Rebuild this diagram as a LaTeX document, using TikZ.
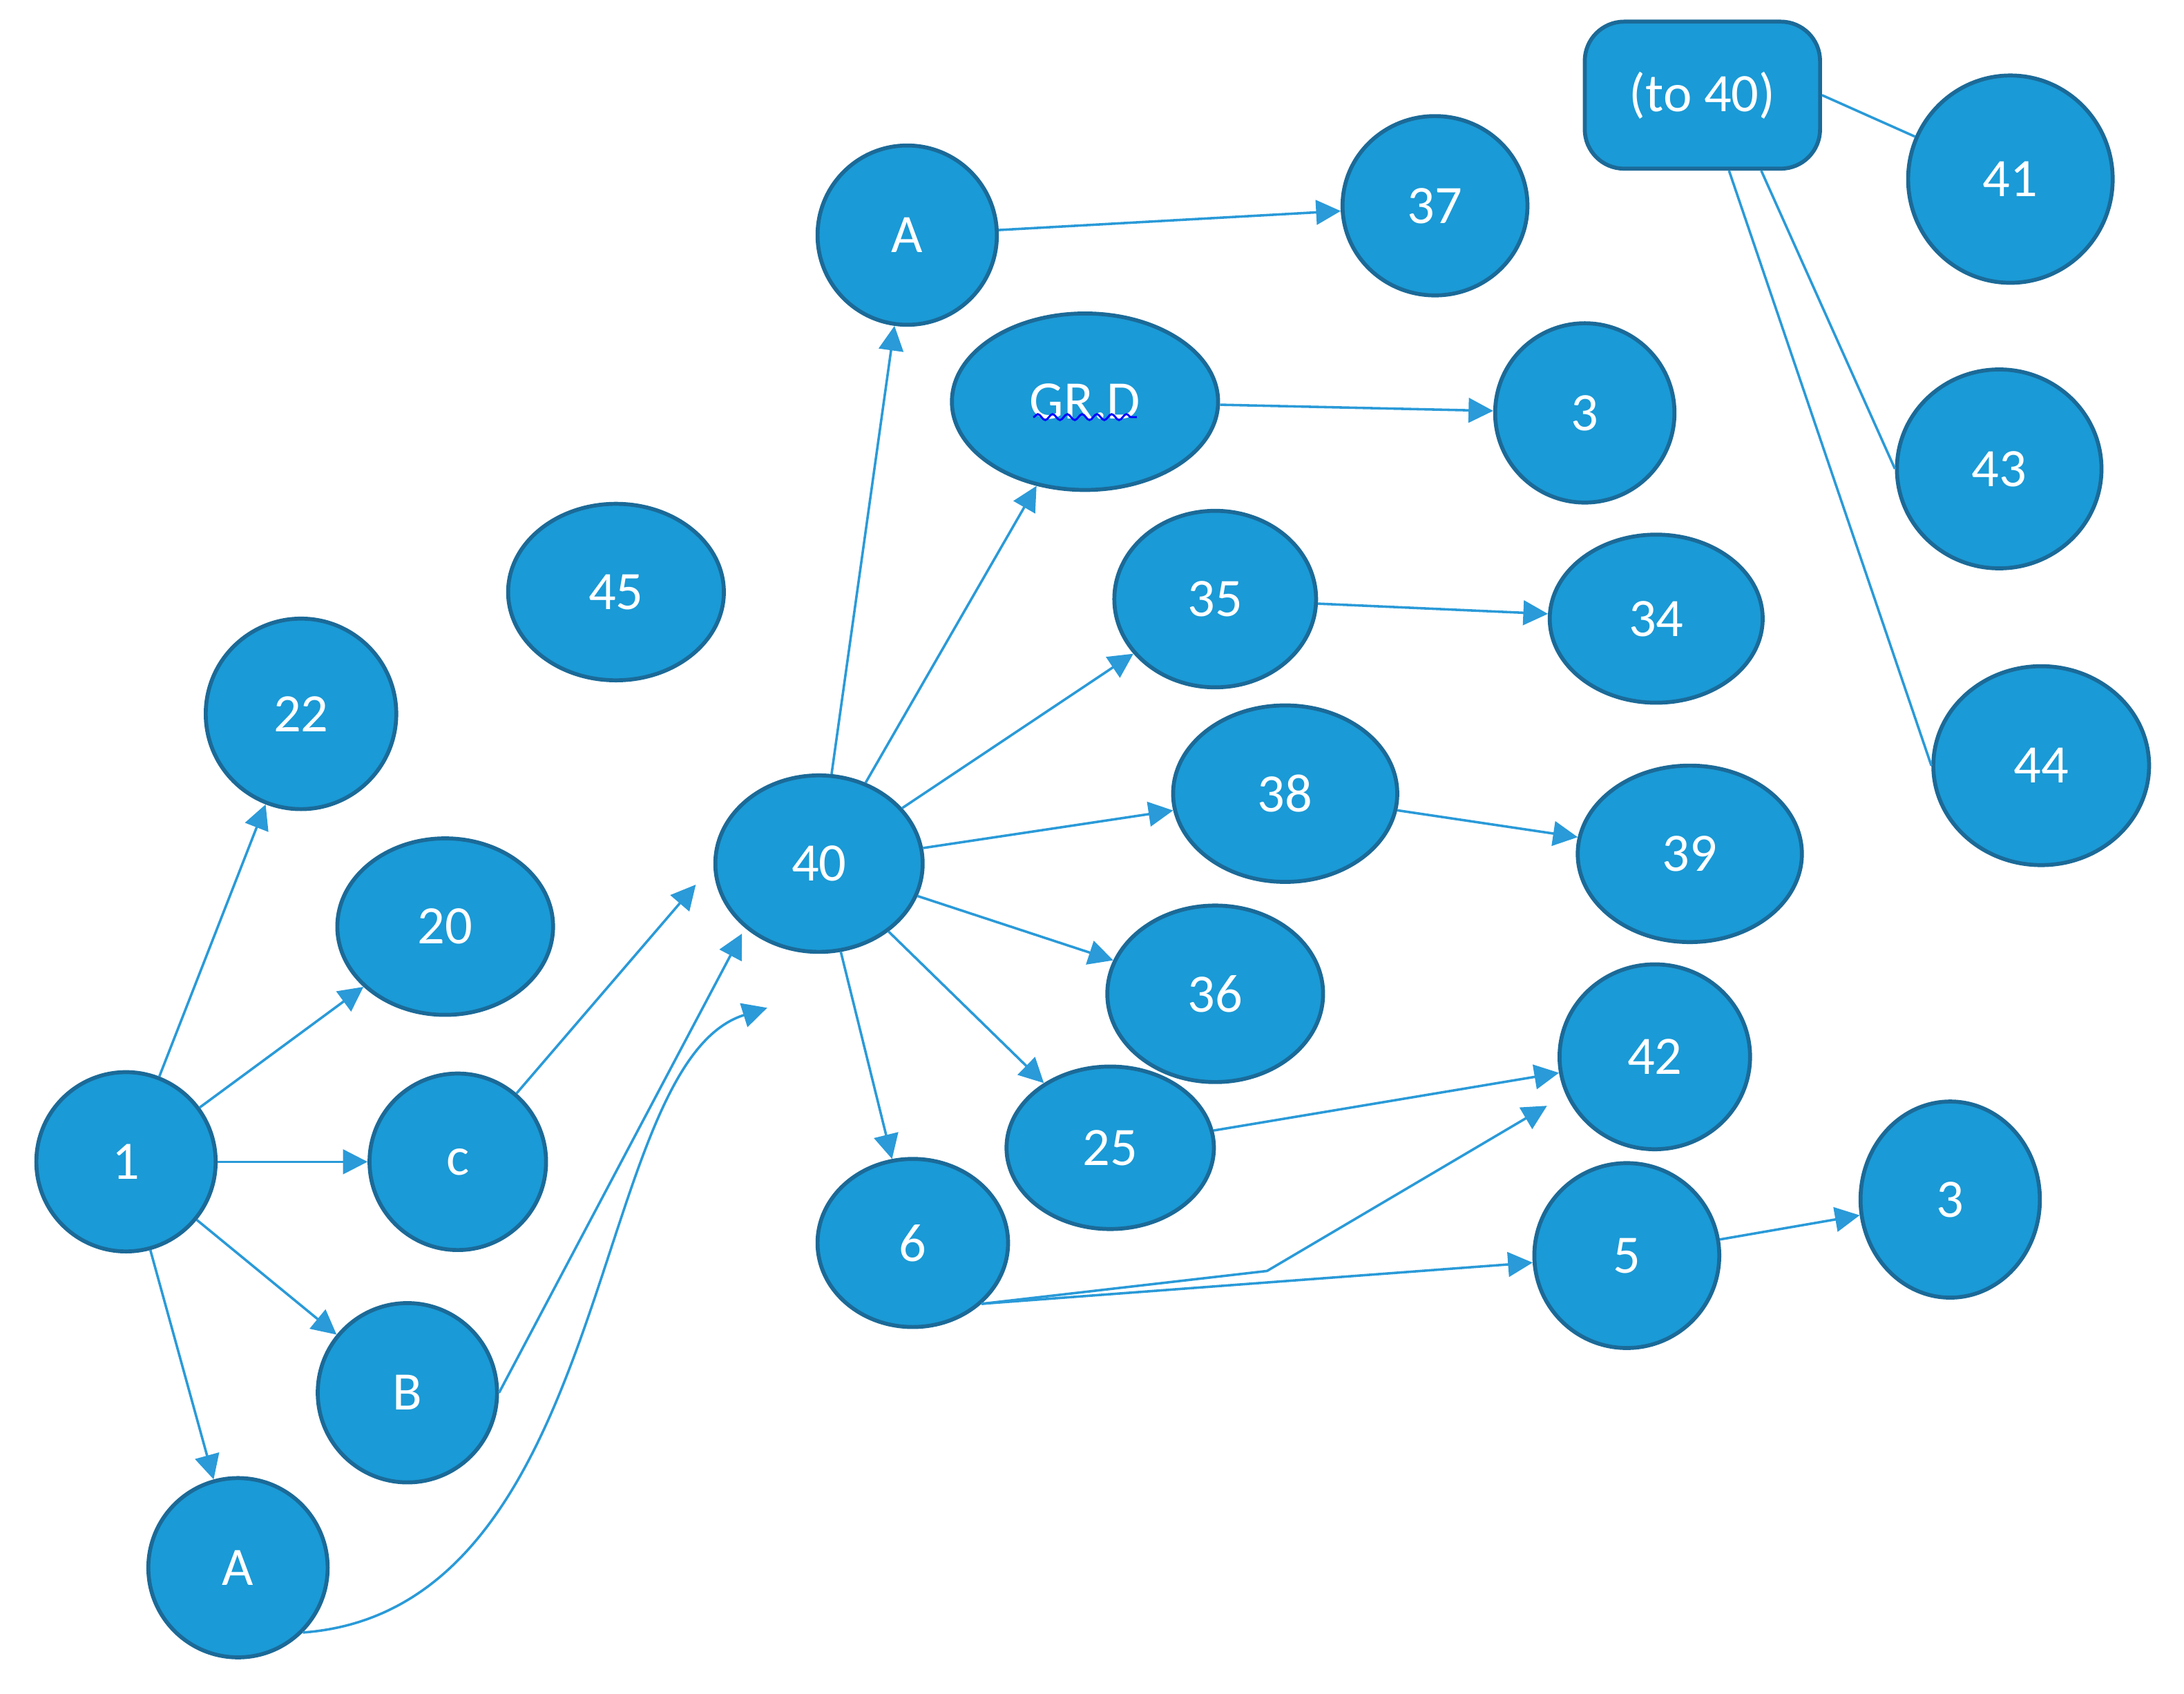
\documentclass[tikz,border=0pt]{standalone}
\usepackage{fontspec}
\setmainfont{Carlito}
\usetikzlibrary{shapes.geometric,arrows.meta,decorations.pathmorphing}
\definecolor{nfill}{HTML}{1A9AD6}
\definecolor{nline}{HTML}{1B6A98}
\definecolor{eline}{HTML}{2A9AD8}
\begin{document}
\begin{tikzpicture}[x=0.01cm,y=-0.01cm,
  n/.style={ellipse,fill=nfill,draw=nline,line width=0.8pt,text=white,font=\fontsize{11}{13}\selectfont,inner sep=0pt},
  e/.style={draw=eline,line width=0.5pt,-{Triangle[length=5pt,width=5pt]}},
  l/.style={draw=eline,line width=0.5pt}]
\useasboundingbox (0,0) rectangle (1560,1210);
\newcommand{\nd}[6]{\node[n,minimum width=#4*0.02cm,minimum height=#5*0.02cm] (#1) at (#2,#3) {#6};}
\nd{n1}{90}{830}{64}{64}{1}
\nd{n22}{215}{510}{68}{68}{22}
\nd{n20}{318}{662}{77}{63}{20}
\nd{nc}{327}{830}{63}{63}{c}
\nd{nB}{291}{995}{64}{64}{B}
\nd{nAb}{170}{1120}{64}{64}{A}
\nd{n45}{440}{423}{77}{63}{45}
\nd{n40}{585}{617}{74}{63}{40}
\nd{nAt}{648}{168}{64}{64}{A}
\nd{nGR}{775}{287}{95}{63}{GR.D}
\nd{n37}{1025}{147}{66}{64}{37}
\nd{n3t}{1132}{295}{64}{64}{3}
\nd{n35}{868}{428}{72}{63}{35}
\nd{n34}{1183}{442}{76}{60}{34}
\nd{n38}{918}{567}{80}{63}{38}
\nd{n39}{1207}{610}{80}{63}{39}
\nd{n36}{868}{710}{77}{63}{36}
\nd{n25}{793}{820}{74}{58}{25}
\nd{n42}{1182}{755}{68}{66}{42}
\nd{n6}{652}{888}{68}{60}{6}
\nd{n5}{1162}{897}{66}{66}{5}
\nd{n3r}{1393}{857}{64}{70}{3}
\nd{n41}{1436}{128}{73}{74}{41}
\nd{n43}{1428}{335}{73}{71}{43}
\nd{n44}{1458}{547}{77}{71}{44}
\node[rectangle,rounded corners=8pt,fill=nfill,draw=nline,line width=0.8pt,text=white,font=\fontsize{11}{13}\selectfont,minimum width=1.68cm,minimum height=1.05cm] (box) at (1216,68) {(to 40)};
\draw[blue,line width=0.4pt,decorate,decoration={snake,amplitude=0.6pt,segment length=3pt}] (738,298) -- (812,298);
\coordinate (fc) at (497,632);
\coordinate (fB) at (530,667);
\coordinate (fA) at (548,720);
\coordinate (bend) at (905,908);
\coordinate (f42) at (1105,790);
\draw[e] (n1) -- (n22);
\draw[e] (n1) -- (n20);
\draw[e] (n1) -- (nc);
\draw[e] (n1) -- (nB);
\draw[e] (n1) -- (nAb);
\draw[e] (nc) -- (fc);
\draw[e] (nB.east) -- (fB);
\draw[e] (nAb.south east) .. controls (440,1150) and (420,760) .. (fA);
\draw[e] (n40) -- (nAt);
\draw[e] (n40) -- (nGR);
\draw[e] (n40) -- (n35);
\draw[e] (n40) -- (n38);
\draw[e] (n40) -- (n36);
\draw[e] (n40) -- (n25);
\draw[e] (n40) -- (n6);
\draw[e] (nAt) -- (n37);
\draw[e] (nGR) -- (n3t);
\draw[e] (n35) -- (n34);
\draw[e] (n38) -- (n39);
\draw[e] (n25) -- (n42);
\draw[e] (n6.south east) -- (bend) -- (f42);
\draw[e] (n6.south east) -- (n5);
\draw[e] (n5) -- (n3r);
\draw[l] (box.east) -- (n41);
\draw[l] ([xshift=0.42cm]box.south) -- (n43.west);
\draw[l] ([xshift=0.19cm]box.south) -- (n44.west);
\end{tikzpicture}
\end{document}
